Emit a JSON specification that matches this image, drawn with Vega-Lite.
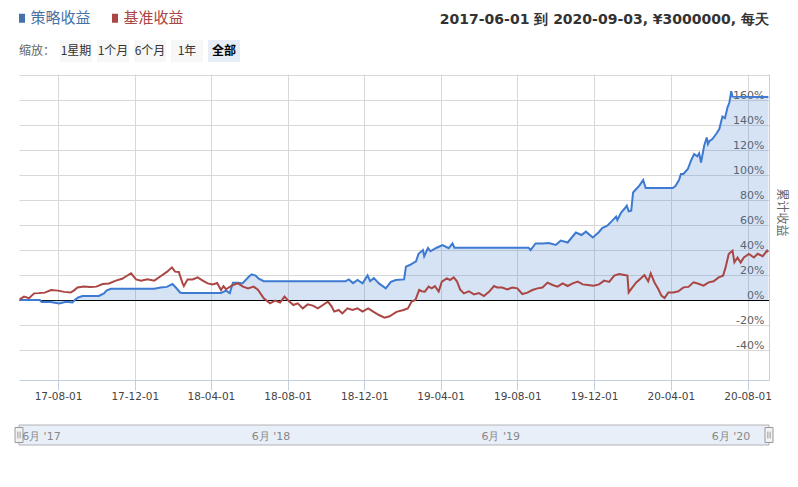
{
  "$schema": "https://vega.github.io/schema/vega-lite/v6.json",
  "padding": {"left": 13, "top": 10, "right": 10, "bottom": 10},
  "spacing": 12,
  "bounds": "flush",
  "resolve": {"scale": {"x": "independent", "y": "independent", "color": "independent"}, "legend": {"color": "independent"}},
  "config": {"view": {"stroke": null}, "font": "DejaVu Sans"},
  "datasets": {
    "buttons": [
      {"btn": "缩放：", "kind": "label"},
      {"btn": "1星期", "kind": "button"},
      {"btn": "1个月", "kind": "button"},
      {"btn": "6个月", "kind": "button"},
      {"btn": "1年", "kind": "button"},
      {"btn": "全部", "kind": "selected"}
    ],
    "nav": [{"start": "2017-05-31", "end": "2020-09-04", "part": "nav"}],
    "handles": [{"start": "2017-05-31", "part": "nav"}, {"start": "2020-09-04", "part": "nav"}],
    "returns": [
      {"date": "2017-06-01", "series": "策略收益", "value": 0},
      {"date": "2017-07-03", "series": "策略收益", "value": 0},
      {"date": "2017-07-06", "series": "策略收益", "value": -1.6},
      {"date": "2017-07-20", "series": "策略收益", "value": -1.6},
      {"date": "2017-08-03", "series": "策略收益", "value": -2.7},
      {"date": "2017-08-14", "series": "策略收益", "value": -1.4},
      {"date": "2017-08-24", "series": "策略收益", "value": -2.0},
      {"date": "2017-08-29", "series": "策略收益", "value": 0.5},
      {"date": "2017-09-02", "series": "策略收益", "value": 2.0},
      {"date": "2017-09-09", "series": "策略收益", "value": 3.2},
      {"date": "2017-10-05", "series": "策略收益", "value": 3.2},
      {"date": "2017-10-13", "series": "策略收益", "value": 5.3},
      {"date": "2017-10-17", "series": "策略收益", "value": 7.5},
      {"date": "2017-10-24", "series": "策略收益", "value": 9.0},
      {"date": "2018-01-01", "series": "策略收益", "value": 9.0},
      {"date": "2018-01-11", "series": "策略收益", "value": 10.0},
      {"date": "2018-01-21", "series": "策略收益", "value": 10.5},
      {"date": "2018-01-30", "series": "策略收益", "value": 12.8},
      {"date": "2018-02-06", "series": "策略收益", "value": 9.0},
      {"date": "2018-02-11", "series": "策略收益", "value": 6.0},
      {"date": "2018-02-14", "series": "策略收益", "value": 5.6},
      {"date": "2018-04-17", "series": "策略收益", "value": 5.6},
      {"date": "2018-04-25", "series": "策略收益", "value": 7.5},
      {"date": "2018-05-01", "series": "策略收益", "value": 5.5},
      {"date": "2018-05-06", "series": "策略收益", "value": 13.9},
      {"date": "2018-05-15", "series": "策略收益", "value": 13.9},
      {"date": "2018-05-21", "series": "策略收益", "value": 13.3},
      {"date": "2018-06-01", "series": "策略收益", "value": 19.0},
      {"date": "2018-06-05", "series": "策略收益", "value": 20.5},
      {"date": "2018-06-11", "series": "策略收益", "value": 19.5},
      {"date": "2018-06-16", "series": "策略收益", "value": 17.0},
      {"date": "2018-06-24", "series": "策略收益", "value": 15.0},
      {"date": "2018-11-01", "series": "策略收益", "value": 15.0},
      {"date": "2018-11-06", "series": "策略收益", "value": 16.5},
      {"date": "2018-11-13", "series": "策略收益", "value": 13.5},
      {"date": "2018-11-20", "series": "策略收益", "value": 16.0},
      {"date": "2018-11-28", "series": "策略收益", "value": 13.3},
      {"date": "2018-12-06", "series": "策略收益", "value": 19.7},
      {"date": "2018-12-10", "series": "策略收益", "value": 15.0},
      {"date": "2018-12-16", "series": "策略收益", "value": 17.5},
      {"date": "2018-12-24", "series": "策略收益", "value": 13.3},
      {"date": "2019-01-04", "series": "策略收益", "value": 9.3},
      {"date": "2019-01-12", "series": "策略收益", "value": 14.5},
      {"date": "2019-01-20", "series": "策略收益", "value": 16.0},
      {"date": "2019-02-02", "series": "策略收益", "value": 16.5},
      {"date": "2019-02-05", "series": "策略收益", "value": 26.7},
      {"date": "2019-02-11", "series": "策略收益", "value": 28.0},
      {"date": "2019-02-21", "series": "策略收益", "value": 31.0},
      {"date": "2019-02-25", "series": "策略收益", "value": 37.0},
      {"date": "2019-03-04", "series": "策略收益", "value": 40.0},
      {"date": "2019-03-06", "series": "策略收益", "value": 35.0},
      {"date": "2019-03-12", "series": "策略收益", "value": 41.6},
      {"date": "2019-03-16", "series": "策略收益", "value": 39.0},
      {"date": "2019-03-25", "series": "策略收益", "value": 41.6},
      {"date": "2019-04-04", "series": "策略收益", "value": 44.0},
      {"date": "2019-04-14", "series": "策略收益", "value": 41.5},
      {"date": "2019-04-20", "series": "策略收益", "value": 45.3},
      {"date": "2019-04-23", "series": "策略收益", "value": 41.9},
      {"date": "2019-08-19", "series": "策略收益", "value": 41.9},
      {"date": "2019-08-22", "series": "策略收益", "value": 40.0},
      {"date": "2019-08-30", "series": "策略收益", "value": 45.3},
      {"date": "2019-09-10", "series": "策略收益", "value": 45.3},
      {"date": "2019-09-20", "series": "策略收益", "value": 45.5},
      {"date": "2019-10-01", "series": "策略收益", "value": 44.0},
      {"date": "2019-10-09", "series": "策略收益", "value": 47.5},
      {"date": "2019-10-20", "series": "策略收益", "value": 46.0},
      {"date": "2019-11-02", "series": "策略收益", "value": 54.0},
      {"date": "2019-11-11", "series": "策略收益", "value": 52.0},
      {"date": "2019-11-18", "series": "策略收益", "value": 54.7},
      {"date": "2019-11-29", "series": "策略收益", "value": 50.0},
      {"date": "2019-12-08", "series": "策略收益", "value": 54.0},
      {"date": "2019-12-14", "series": "策略收益", "value": 57.6},
      {"date": "2019-12-22", "series": "策略收益", "value": 59.5},
      {"date": "2019-12-30", "series": "策略收益", "value": 63.5},
      {"date": "2020-01-05", "series": "策略收益", "value": 66.7},
      {"date": "2020-01-07", "series": "策略收益", "value": 64.0},
      {"date": "2020-01-13", "series": "策略收益", "value": 70.0},
      {"date": "2020-01-18", "series": "策略收益", "value": 72.8},
      {"date": "2020-01-22", "series": "策略收益", "value": 75.5},
      {"date": "2020-01-25", "series": "策略收益", "value": 71.0},
      {"date": "2020-01-29", "series": "策略收益", "value": 71.5},
      {"date": "2020-02-01", "series": "策略收益", "value": 86.0},
      {"date": "2020-02-06", "series": "策略收益", "value": 88.8},
      {"date": "2020-02-11", "series": "策略收益", "value": 91.5},
      {"date": "2020-02-17", "series": "策略收益", "value": 96.0},
      {"date": "2020-02-21", "series": "策略收益", "value": 89.6},
      {"date": "2020-04-04", "series": "策略收益", "value": 89.6},
      {"date": "2020-04-08", "series": "策略收益", "value": 91.0},
      {"date": "2020-04-14", "series": "策略收益", "value": 96.0},
      {"date": "2020-04-17", "series": "策略收益", "value": 100.8},
      {"date": "2020-04-21", "series": "策略收益", "value": 100.8},
      {"date": "2020-04-28", "series": "策略收益", "value": 104.8},
      {"date": "2020-05-03", "series": "策略收益", "value": 111.5},
      {"date": "2020-05-08", "series": "策略收益", "value": 116.8},
      {"date": "2020-05-13", "series": "策略收益", "value": 115.0},
      {"date": "2020-05-16", "series": "策略收益", "value": 117.3},
      {"date": "2020-05-19", "series": "策略收益", "value": 110.0},
      {"date": "2020-05-24", "series": "策略收益", "value": 123.5},
      {"date": "2020-05-28", "series": "策略收益", "value": 130.0},
      {"date": "2020-05-30", "series": "策略收益", "value": 124.8},
      {"date": "2020-06-01", "series": "策略收益", "value": 127.0},
      {"date": "2020-06-06", "series": "策略收益", "value": 128.8},
      {"date": "2020-06-12", "series": "策略收益", "value": 132.8},
      {"date": "2020-06-17", "series": "策略收益", "value": 136.8},
      {"date": "2020-06-22", "series": "策略收益", "value": 146.7},
      {"date": "2020-06-26", "series": "策略收益", "value": 145.5},
      {"date": "2020-06-30", "series": "策略收益", "value": 154.0},
      {"date": "2020-07-03", "series": "策略收益", "value": 158.0},
      {"date": "2020-07-06", "series": "策略收益", "value": 167.0},
      {"date": "2020-07-08", "series": "策略收益", "value": 162.7},
      {"date": "2020-09-03", "series": "策略收益", "value": 162.4},
      {"date": "2017-06-01", "series": "基准收益", "value": 0.5},
      {"date": "2017-06-08", "series": "基准收益", "value": 2.7},
      {"date": "2017-06-16", "series": "基准收益", "value": 1.5},
      {"date": "2017-06-24", "series": "基准收益", "value": 5.3},
      {"date": "2017-07-01", "series": "基准收益", "value": 5.5},
      {"date": "2017-07-11", "series": "基准收益", "value": 5.9},
      {"date": "2017-07-21", "series": "基准收益", "value": 8.0},
      {"date": "2017-08-01", "series": "基准收益", "value": 7.5},
      {"date": "2017-08-11", "series": "基准收益", "value": 6.5},
      {"date": "2017-08-21", "series": "基准收益", "value": 6.0},
      {"date": "2017-08-26", "series": "基准收益", "value": 7.5},
      {"date": "2017-09-01", "series": "基准收益", "value": 10.0},
      {"date": "2017-09-11", "series": "基准收益", "value": 10.7},
      {"date": "2017-09-21", "series": "基准收益", "value": 10.5},
      {"date": "2017-10-01", "series": "基准收益", "value": 10.7},
      {"date": "2017-10-11", "series": "基准收益", "value": 12.8},
      {"date": "2017-10-21", "series": "基准收益", "value": 13.2},
      {"date": "2017-11-01", "series": "基准收益", "value": 15.5},
      {"date": "2017-11-11", "series": "基准收益", "value": 17.0},
      {"date": "2017-11-18", "series": "基准收益", "value": 19.2},
      {"date": "2017-11-25", "series": "基准收益", "value": 21.3},
      {"date": "2017-12-03", "series": "基准收益", "value": 16.5},
      {"date": "2017-12-11", "series": "基准收益", "value": 15.5},
      {"date": "2017-12-21", "series": "基准收益", "value": 16.5},
      {"date": "2018-01-01", "series": "基准收益", "value": 15.5},
      {"date": "2018-01-11", "series": "基准收益", "value": 19.0},
      {"date": "2018-01-21", "series": "基准收益", "value": 22.5},
      {"date": "2018-01-29", "series": "基准收益", "value": 26.1},
      {"date": "2018-02-03", "series": "基准收益", "value": 22.7},
      {"date": "2018-02-09", "series": "基准收益", "value": 22.4},
      {"date": "2018-02-15", "series": "基准收益", "value": 13.3},
      {"date": "2018-02-17", "series": "基准收益", "value": 11.2},
      {"date": "2018-02-23", "series": "基准收益", "value": 16.5},
      {"date": "2018-03-03", "series": "基准收益", "value": 16.5},
      {"date": "2018-03-11", "series": "基准收益", "value": 18.1},
      {"date": "2018-03-19", "series": "基准收益", "value": 15.5},
      {"date": "2018-03-27", "series": "基准收益", "value": 13.3},
      {"date": "2018-04-04", "series": "基准收益", "value": 12.5},
      {"date": "2018-04-11", "series": "基准收益", "value": 13.6},
      {"date": "2018-04-17", "series": "基准收益", "value": 8.0},
      {"date": "2018-04-21", "series": "基准收益", "value": 11.0},
      {"date": "2018-04-25", "series": "基准收益", "value": 8.6},
      {"date": "2018-05-06", "series": "基准收益", "value": 12.0},
      {"date": "2018-05-14", "series": "基准收益", "value": 13.3},
      {"date": "2018-05-22", "series": "基准收益", "value": 10.7},
      {"date": "2018-05-30", "series": "基准收益", "value": 9.3},
      {"date": "2018-06-08", "series": "基准收益", "value": 10.7},
      {"date": "2018-06-15", "series": "基准收益", "value": 8.0},
      {"date": "2018-06-24", "series": "基准收益", "value": 1.3},
      {"date": "2018-07-04", "series": "基准收益", "value": -2.7},
      {"date": "2018-07-12", "series": "基准收益", "value": -0.5},
      {"date": "2018-07-20", "series": "基准收益", "value": -2.0},
      {"date": "2018-07-27", "series": "基准收益", "value": 2.7},
      {"date": "2018-08-02", "series": "基准收益", "value": -0.5},
      {"date": "2018-08-10", "series": "基准收益", "value": -4.0},
      {"date": "2018-08-17", "series": "基准收益", "value": -2.7},
      {"date": "2018-08-25", "series": "基准收益", "value": -6.7},
      {"date": "2018-09-02", "series": "基准收益", "value": -3.5},
      {"date": "2018-09-10", "series": "基准收益", "value": -4.5},
      {"date": "2018-09-18", "series": "基准收益", "value": -6.7},
      {"date": "2018-09-26", "series": "基准收益", "value": -4.0},
      {"date": "2018-10-04", "series": "基准收益", "value": -1.3},
      {"date": "2018-10-10", "series": "基准收益", "value": -5.3},
      {"date": "2018-10-14", "series": "基准收益", "value": -9.3},
      {"date": "2018-10-21", "series": "基准收益", "value": -8.0},
      {"date": "2018-10-27", "series": "基准收益", "value": -10.7},
      {"date": "2018-11-04", "series": "基准收益", "value": -6.7},
      {"date": "2018-11-12", "series": "基准收益", "value": -8.0},
      {"date": "2018-11-20", "series": "基准收益", "value": -6.7},
      {"date": "2018-11-28", "series": "基准收益", "value": -9.3},
      {"date": "2018-12-07", "series": "基准收益", "value": -6.7},
      {"date": "2018-12-15", "series": "基准收益", "value": -9.3},
      {"date": "2018-12-24", "series": "基准收益", "value": -12.0},
      {"date": "2019-01-02", "series": "基准收益", "value": -14.1},
      {"date": "2019-01-10", "series": "基准收益", "value": -13.0},
      {"date": "2019-01-21", "series": "基准收益", "value": -9.5},
      {"date": "2019-02-01", "series": "基准收益", "value": -8.0},
      {"date": "2019-02-08", "series": "基准收益", "value": -6.7},
      {"date": "2019-02-14", "series": "基准收益", "value": -1.3},
      {"date": "2019-02-20", "series": "基准收益", "value": 0.0},
      {"date": "2019-02-26", "series": "基准收益", "value": 8.0},
      {"date": "2019-03-02", "series": "基准收益", "value": 7.0},
      {"date": "2019-03-07", "series": "基准收益", "value": 6.7},
      {"date": "2019-03-13", "series": "基准收益", "value": 10.7},
      {"date": "2019-03-18", "series": "基准收益", "value": 9.3},
      {"date": "2019-03-23", "series": "基准收益", "value": 11.0},
      {"date": "2019-03-29", "series": "基准收益", "value": 6.7},
      {"date": "2019-04-03", "series": "基准收益", "value": 14.7},
      {"date": "2019-04-11", "series": "基准收益", "value": 17.3},
      {"date": "2019-04-16", "series": "基准收益", "value": 16.0},
      {"date": "2019-04-22", "series": "基准收益", "value": 18.1},
      {"date": "2019-04-27", "series": "基准收益", "value": 15.0},
      {"date": "2019-05-02", "series": "基准收益", "value": 8.5},
      {"date": "2019-05-08", "series": "基准收益", "value": 5.3},
      {"date": "2019-05-16", "series": "基准收益", "value": 7.0},
      {"date": "2019-05-24", "series": "基准收益", "value": 4.5},
      {"date": "2019-06-01", "series": "基准收益", "value": 5.5},
      {"date": "2019-06-09", "series": "基准收益", "value": 3.2},
      {"date": "2019-06-17", "series": "基准收益", "value": 6.5},
      {"date": "2019-06-25", "series": "基准收益", "value": 11.2},
      {"date": "2019-06-30", "series": "基准收益", "value": 10.0},
      {"date": "2019-07-08", "series": "基准收益", "value": 10.0},
      {"date": "2019-07-16", "series": "基准收益", "value": 8.5},
      {"date": "2019-07-24", "series": "基准收益", "value": 10.0},
      {"date": "2019-08-01", "series": "基准收益", "value": 9.3},
      {"date": "2019-08-09", "series": "基准收益", "value": 4.8},
      {"date": "2019-08-17", "series": "基准收益", "value": 5.9},
      {"date": "2019-08-25", "series": "基准收益", "value": 8.0},
      {"date": "2019-09-02", "series": "基准收益", "value": 9.3},
      {"date": "2019-09-10", "series": "基准收益", "value": 10.0},
      {"date": "2019-09-18", "series": "基准收益", "value": 13.9},
      {"date": "2019-09-26", "series": "基准收益", "value": 12.0},
      {"date": "2019-10-04", "series": "基准收益", "value": 10.7},
      {"date": "2019-10-12", "series": "基准收益", "value": 13.3},
      {"date": "2019-10-20", "series": "基准收益", "value": 11.2},
      {"date": "2019-10-28", "series": "基准收益", "value": 13.3},
      {"date": "2019-11-05", "series": "基准收益", "value": 14.7},
      {"date": "2019-11-13", "series": "基准收益", "value": 12.5},
      {"date": "2019-11-21", "series": "基准收益", "value": 12.0},
      {"date": "2019-11-30", "series": "基准收益", "value": 11.5},
      {"date": "2019-12-09", "series": "基准收益", "value": 12.5},
      {"date": "2019-12-17", "series": "基准收益", "value": 15.5},
      {"date": "2019-12-25", "series": "基准收益", "value": 14.5},
      {"date": "2020-01-02", "series": "基准收益", "value": 19.5},
      {"date": "2020-01-10", "series": "基准收益", "value": 20.8},
      {"date": "2020-01-18", "series": "基准收益", "value": 20.0},
      {"date": "2020-01-23", "series": "基准收益", "value": 19.5},
      {"date": "2020-01-25", "series": "基准收益", "value": 6.1},
      {"date": "2020-01-30", "series": "基准收益", "value": 9.5},
      {"date": "2020-02-06", "series": "基准收益", "value": 14.0},
      {"date": "2020-02-14", "series": "基准收益", "value": 17.6},
      {"date": "2020-02-19", "series": "基准收益", "value": 20.0},
      {"date": "2020-02-25", "series": "基准收益", "value": 15.0},
      {"date": "2020-02-29", "series": "基准收益", "value": 21.3},
      {"date": "2020-03-06", "series": "基准收益", "value": 14.0},
      {"date": "2020-03-12", "series": "基准收益", "value": 8.8},
      {"date": "2020-03-17", "series": "基准收益", "value": 3.5},
      {"date": "2020-03-22", "series": "基准收益", "value": 1.6},
      {"date": "2020-03-28", "series": "基准收益", "value": 6.1},
      {"date": "2020-04-05", "series": "基准收益", "value": 6.1},
      {"date": "2020-04-13", "series": "基准收益", "value": 7.0},
      {"date": "2020-04-21", "series": "基准收益", "value": 10.1},
      {"date": "2020-04-29", "series": "基准收益", "value": 10.5},
      {"date": "2020-05-07", "series": "基准收益", "value": 14.1},
      {"date": "2020-05-15", "series": "基准收益", "value": 13.0},
      {"date": "2020-05-23", "series": "基准收益", "value": 11.5},
      {"date": "2020-05-31", "series": "基准收益", "value": 14.1},
      {"date": "2020-06-08", "series": "基准收益", "value": 15.0},
      {"date": "2020-06-16", "series": "基准收益", "value": 18.1},
      {"date": "2020-06-23", "series": "基准收益", "value": 19.5},
      {"date": "2020-06-27", "series": "基准收益", "value": 26.1},
      {"date": "2020-07-02", "series": "基准收益", "value": 36.8},
      {"date": "2020-07-08", "series": "基准收益", "value": 39.5},
      {"date": "2020-07-11", "series": "基准收益", "value": 30.1},
      {"date": "2020-07-16", "series": "基准收益", "value": 34.0},
      {"date": "2020-07-21", "series": "基准收益", "value": 30.0},
      {"date": "2020-07-26", "series": "基准收益", "value": 34.0},
      {"date": "2020-08-03", "series": "基准收益", "value": 36.8},
      {"date": "2020-08-11", "series": "基准收益", "value": 34.0},
      {"date": "2020-08-17", "series": "基准收益", "value": 37.0},
      {"date": "2020-08-25", "series": "基准收益", "value": 35.0},
      {"date": "2020-09-01", "series": "基准收益", "value": 39.5},
      {"date": "2020-09-03", "series": "基准收益", "value": 38.5}
    ]
  },
  "vconcat": [
    {
      "width": 225,
      "height": 22,
      "title": {"text": "2017-06-01 到 2020-09-03, ¥3000000, 每天", "anchor": "end", "frame": "group", "offset": 13, "dx": 525, "fontSize": 14, "fontWeight": "bold", "color": "#333333", "font": "DejaVu Sans"},
      "data": {"name": "buttons"},
      "encoding": {
        "x": {"field": "btn", "type": "nominal", "sort": null, "axis": null,
          "scale": {"type": "band", "domain": ["缩放：", "1星期", "1个月", "6个月", "1年", "全部"], "paddingInner": 0.1351, "paddingOuter": 0.1081}}
      },
      "layer": [
        {
          "transform": [{"filter": "datum.kind !== 'label'"}],
          "mark": {"type": "rect"},
          "encoding": {"fill": {"field": "kind", "type": "nominal", "legend": null, "scale": {"domain": ["button", "selected"], "range": ["#F7F7F7", "#E6EDF7"]}}}
        },
        {
          "transform": [{"filter": "datum.kind === 'button'"}],
          "mark": {"type": "text", "fontSize": 12, "color": "#333333", "font": "Noto Sans CJK SC"},
          "encoding": {"text": {"field": "btn"}}
        },
        {
          "transform": [{"filter": "datum.kind === 'selected'"}],
          "mark": {"type": "text", "fontSize": 12, "fontWeight": "bold", "color": "#000000", "font": "Noto Sans CJK SC"},
          "encoding": {"text": {"field": "btn"}}
        },
        {
          "transform": [{"filter": "datum.kind === 'label'"}],
          "mark": {"type": "text", "fontSize": 12, "color": "#666666", "align": "right", "font": "Noto Sans CJK SC"},
          "encoding": {"text": {"field": "btn"}, "x": {"field": "btn", "type": "nominal", "sort": null, "bandPosition": 1}}
        }
      ]
    },
    {
      "width": 750,
      "height": 306,
      "data": {"name": "returns"},
      "encoding": {
        "x": {"field": "date", "type": "temporal",
          "scale": {"type": "utc", "domain": [{"year": 2017, "month": 5, "date": 31, "utc": true}, {"year": 2020, "month": 9, "date": 4, "utc": true}]},
          "axis": {"title": null, "labelExpr": "utcFormat(datum.value, '%y-%m-%d')",
            "values": [
              {"year": 2017, "month": 8, "date": 1, "utc": true},
              {"year": 2017, "month": 12, "date": 1, "utc": true},
              {"year": 2018, "month": 4, "date": 1, "utc": true},
              {"year": 2018, "month": 8, "date": 1, "utc": true},
              {"year": 2018, "month": 12, "date": 1, "utc": true},
              {"year": 2019, "month": 4, "date": 1, "utc": true},
              {"year": 2019, "month": 8, "date": 1, "utc": true},
              {"year": 2019, "month": 12, "date": 1, "utc": true},
              {"year": 2020, "month": 4, "date": 1, "utc": true},
              {"year": 2020, "month": 8, "date": 1, "utc": true}
            ],
            "grid": true, "gridColor": "#D8D8D8", "domainColor": "#C0D0E0", "tickColor": "#C0D0E0", "tickSize": 10,
            "labelPadding": 1, "labelFontSize": 10.5, "labelColor": "#444444", "labelFont": "DejaVu Sans", "labelFlush": false, "labelOverlap": false}
        },
        "y": {"field": "value", "type": "quantitative",
          "scale": {"domain": [-64, 180.8], "nice": false, "zero": false},
          "axis": {"orient": "right", "title": "累计收益",
            "values": [-40, -20, 0, 20, 40, 60, 80, 100, 120, 140, 160, 180],
            "labelExpr": "datum.value >= 170 ? '' : datum.value + '%'",
            "grid": true,
            "gridColor": {"condition": {"test": "datum.value === 0", "value": "#000000"}, "value": "#D8D8D8"},
            "domain": true, "domainColor": "#C0D0E0", "ticks": false, "tickSize": 0,
            "labelAlign": "right", "labelPadding": -5, "labelBaseline": "alphabetic", "labelOffset": -2,
            "labelFontSize": 11, "labelColor": "#606060", "labelFont": "DejaVu Sans", "labelOverlap": false, "labelFlush": false,
            "titleAngle": 90, "titleX": 12, "titleY": 138, "titleBaseline": "middle", "titleAlign": "center",
            "titleFontSize": 12, "titleColor": "#666666", "titleFontWeight": "normal", "titleFont": "Noto Sans CJK SC"}
        }
      },
      "layer": [
        {
          "transform": [{"filter": "datum.series === '策略收益'"}],
          "mark": {"type": "area", "color": "#3D7AD1", "fillOpacity": 0.21}
        },
        {
          "mark": {"type": "line", "strokeWidth": 2},
          "encoding": {
            "color": {"field": "series", "type": "nominal",
              "scale": {"domain": ["策略收益", "基准收益"], "range": ["#3D7AD1", "#AA4643"]},
              "legend": {"orient": "none", "legendX": -4.5, "legendY": -63.5, "direction": "horizontal", "title": null,
                "symbolType": "M-0.667,-1H0.667V1H-0.667Z", "symbolSize": 81, "symbolStrokeWidth": 0,
                "labelFontSize": 15, "labelFont": "Noto Sans CJK SC", "labelOffset": 1, "columnPadding": 16,
                "encode": {
                  "labels": {"update": {"fill": {"signal": "datum.value === '策略收益' ? '#4572A7' : '#AA4643'"}}},
                  "symbols": {"update": {"fill": {"signal": "datum.value === '策略收益' ? '#4572A7' : '#AA4643'"}, "stroke": {"value": "transparent"}, "opacity": {"value": 1}}}
                }
              }
            }
          }
        }
      ]
    },
    {
      "width": 750,
      "height": 53,
      "encoding": {
        "x": {"field": "start", "type": "temporal",
          "scale": {"type": "utc", "domain": [{"year": 2017, "month": 5, "date": 31, "utc": true}, {"year": 2020, "month": 9, "date": 4, "utc": true}]},
          "axis": {"title": null, "labelExpr": "utcFormat(datum.value, \"%-m月 '%y\")",
            "values": [
              {"year": 2017, "month": 6, "date": 1, "utc": true},
              {"year": 2018, "month": 6, "date": 1, "utc": true},
              {"year": 2019, "month": 6, "date": 1, "utc": true},
              {"year": 2020, "month": 6, "date": 1, "utc": true}
            ],
            "zindex": 2,
            "domain": false, "ticks": false, "tickSize": 0, "grid": false,
            "labelAlign": "left", "labelBaseline": "middle", "labelPadding": -9, "labelOffset": 2,
            "labelColor": "#888888", "labelFontSize": 11, "labelFlush": false, "labelOverlap": false}
        },
        "y": {"field": "part", "type": "nominal", "axis": null,
          "scale": {"type": "band", "paddingInner": 0, "paddingOuter": 0.825, "align": 1}}
      },
      "layer": [
        {
          "data": {"name": "nav"},
          "mark": {"type": "rect", "fill": "#E9EFF8", "stroke": "#B2B1B6", "strokeWidth": 1},
          "encoding": {"x2": {"field": "end"}}
        },
        {
          "data": {"name": "handles"},
          "mark": {"type": "point", "shape": "M-0.533,-1H0.533V1H-0.533Z", "size": 225, "filled": true, "fill": "#F2F2F2", "stroke": "#999999", "strokeWidth": 1, "opacity": 1}
        },
        {
          "data": {"name": "handles"},
          "mark": {"type": "point", "shape": "M-0.15,-0.45V0.45M0.15,-0.45V0.45", "size": 225, "filled": false, "stroke": "#999999", "strokeWidth": 1, "opacity": 1}
        }
      ]
    }
  ]
}
